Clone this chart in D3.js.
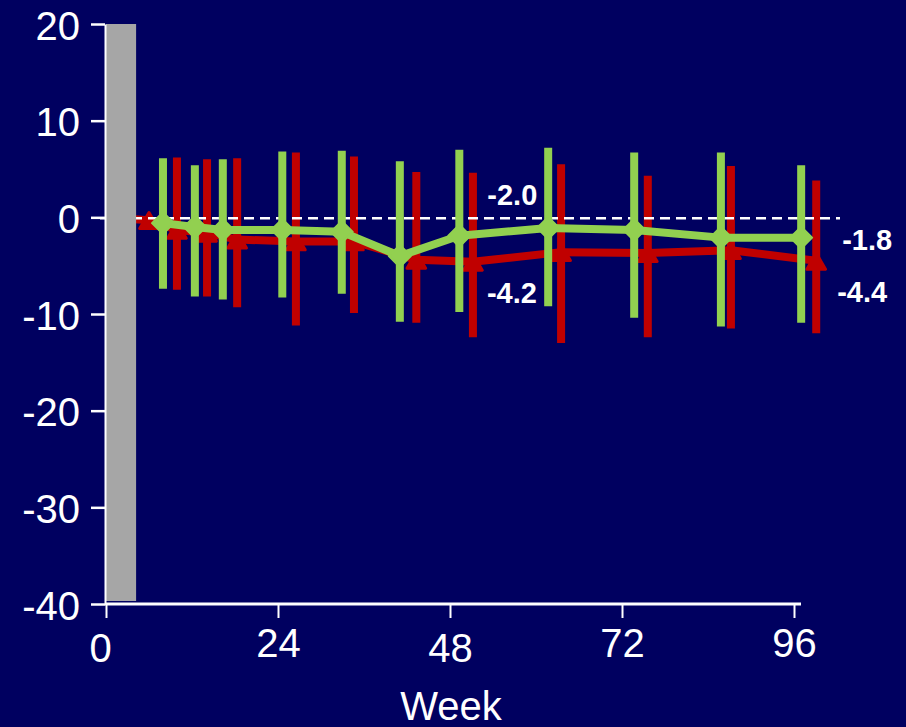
<!DOCTYPE html>
<html>
<head>
<meta charset="utf-8">
<script src="https://cdn.jsdelivr.net/npm/d3@7"></script>
<style>
  html, body { margin: 0; padding: 0; background: #000060; }
  svg { display: block; }
  text { font-family: "Liberation Sans", Arial, sans-serif; fill: #fff; }
</style>
</head>
<body>
<svg id="chart"></svg>
<script>
// x positions (weeks) as plotted, means and error bar bounds
var greenWeeks = [7.95, 12.4, 16.3, 24.6, 32.9, 41.0, 49.3, 61.7, 73.7, 85.8, 97.0];
var greenMean  = [-0.6, -1.0, -1.3, -1.3, -1.5, -4.0, -1.9, -1.1, -1.3, -2.1, -2.1];
var greenLow   = [-7.4, -8.2, -8.5, -8.3, -7.9, -10.8, -9.8, -9.2, -10.4, -11.3, -10.9];
var greenHigh  = [6.1, 5.4, 6.0, 6.8, 6.9, 5.8, 7.0, 7.2, 6.7, 6.7, 5.4];

var redWeeks = [0, 6.0, 9.9, 14.1, 18.3, 26.5, 34.6, 43.3, 51.2, 63.5, 75.6, 87.2, 99.1];
var redMean  = [0, -0.3, -1.3, -1.6, -2.3, -2.5, -2.5, -4.4, -4.6, -3.6, -3.7, -3.4, -4.5];
var redLow   = [null, null, -7.5, -8.2, -9.3, -11.2, -9.9, -10.9, -12.4, -13.0, -12.4, -11.5, -12.0];
var redHigh  = [null, null, 6.2, 6.0, 6.1, 6.7, 6.3, 4.7, 4.6, 5.5, 4.3, 5.3, 3.8];

var xTicks = [0, 24, 48, 72, 96];
var yTicks = [20, 10, 0, -10, -20, -30, -40];
var leadInWeeks = 4.2;   // grey shaded band at the start
var valueLabels = ['-2.0', '-4.2', '-1.8', '-4.4'];

var width = 906, height = 727;
var greenColor = '#92d050', redColor = '#c00000';

var svg = d3.select('#chart')
    .attr('width', width)
    .attr('height', height);

svg.append('rect')
    .attr('width', width)
    .attr('height', height)
    .attr('fill', '#000060');

var x = d3.scaleLinear().domain([0, 96]).range([106, 794]);
var y = d3.scaleLinear().domain([-40, 20]).range([604, 24]);

var line = d3.line()
    .x(function(d) { return x(d[0]); })
    .y(function(d) { return y(d[1]); });

var redPts = redWeeks.map(function(w, i) { return [w, redMean[i], redLow[i], redHigh[i]]; });
var greenPts = greenWeeks.map(function(w, i) { return [w, greenMean[i], greenLow[i], greenHigh[i]]; });

// red series (drawn under green)
var red = svg.append('g');
red.append('path')
    .attr('d', line(redPts))
    .attr('fill', 'none')
    .attr('stroke', redColor)
    .attr('stroke-width', 8)
    .attr('stroke-linejoin', 'round');

red.selectAll('line.bar')
    .data(redPts.filter(function(d) { return d[2] !== null; }))
    .enter()
    .append('line')
    .attr('x1', function(d) { return x(d[0]); })
    .attr('x2', function(d) { return x(d[0]); })
    .attr('y1', function(d) { return y(d[3]); })
    .attr('y2', function(d) { return y(d[2]); })
    .attr('stroke', redColor)
    .attr('stroke-width', 8);

red.selectAll('path.marker')
    .data(redPts.slice(1))
    .enter()
    .append('path')
    .attr('d', d3.symbol().type(d3.symbolTriangle).size(150))
    .attr('transform', function(d) { return 'translate(' + x(d[0]) + ',' + (y(d[1]) + 3) + ')'; })
    .attr('fill', redColor)
    .attr('stroke', redColor)
    .attr('stroke-width', 3)
    .attr('stroke-linejoin', 'round');

// dashed zero line
svg.append('line')
    .attr('x1', 100)
    .attr('x2', 840)
    .attr('y1', y(0) + 1)
    .attr('y2', y(0) + 1)
    .attr('stroke', '#fff')
    .attr('stroke-width', 2.5)
    .attr('stroke-dasharray', '10,6');

// grey lead-in band
svg.append('rect')
    .attr('x', x(0))
    .attr('y', y(20))
    .attr('width', x(leadInWeeks) - x(0))
    .attr('height', y(-40) - y(20) - 3)
    .attr('fill', '#a6a6a6');

// green series
var green = svg.append('g');
green.append('path')
    .attr('d', line(greenPts))
    .attr('fill', 'none')
    .attr('stroke', greenColor)
    .attr('stroke-width', 8)
    .attr('stroke-linejoin', 'round');

green.selectAll('line.bar')
    .data(greenPts)
    .enter()
    .append('line')
    .attr('x1', function(d) { return x(d[0]); })
    .attr('x2', function(d) { return x(d[0]); })
    .attr('y1', function(d) { return y(d[3]); })
    .attr('y2', function(d) { return y(d[2]); })
    .attr('stroke', greenColor)
    .attr('stroke-width', 8);

green.selectAll('path.marker')
    .data(greenPts)
    .enter()
    .append('path')
    .attr('d', 'M0,-11L11,0L0,11L-11,0Z')
    .attr('transform', function(d) { return 'translate(' + x(d[0]) + ',' + y(d[1]) + ')'; })
    .attr('fill', greenColor)
    .attr('stroke', greenColor)
    .attr('stroke-width', 2)
    .attr('stroke-linejoin', 'round');

// value labels next to week 48 and week 96 points
var g48 = greenPts[6], r48 = redPts[8], g96 = greenPts[10], r96 = redPts[12];
var labelPos = [
    [x(g48[0]) + 28, y(g48[1]) - 31],
    [x(r48[0]) + 14, y(r48[1]) + 41],
    [x(g96[0]) + 41, y(g96[1]) + 12],
    [x(r96[0]) + 21, y(r96[1]) + 41]
];
svg.selectAll('text.value')
    .data(valueLabels)
    .enter()
    .append('text')
    .attr('class', 'value')
    .attr('x', function(d, i) { return labelPos[i][0]; })
    .attr('y', function(d, i) { return labelPos[i][1]; })
    .attr('font-size', 29)
    .attr('font-weight', 'bold')
    .text(function(d) { return d; });

// axes
var yAxis = svg.append('g')
    .attr('transform', 'translate(105,0)')
    .call(d3.axisLeft(y).tickValues(yTicks).tickFormat(String)
        .tickSize(14).tickSizeOuter(0).tickPadding(11));
yAxis.select('.domain').attr('stroke', '#fff').attr('stroke-width', 2);
yAxis.selectAll('.tick line').attr('stroke', '#fff').attr('stroke-width', 2.5);
yAxis.selectAll('.tick text')
    .attr('font-size', 40)
    .attr('font-family', '"Liberation Sans", Arial, sans-serif')
    .attr('fill', '#fff')
    .attr('dy', '0.38em');

var xAxis = svg.append('g')
    .attr('transform', 'translate(0,604)')
    .call(d3.axisBottom(x).tickValues(xTicks).tickFormat(String)
        .tickSize(14).tickSizeOuter(0).tickPadding(11));
xAxis.select('.domain').remove();
xAxis.append('line')
    .attr('x1', 105)
    .attr('x2', 801)
    .attr('stroke', '#fff')
    .attr('stroke-width', 3);
xAxis.selectAll('.tick line').attr('stroke', '#fff').attr('stroke-width', 2);
xAxis.selectAll('.tick text')
    .attr('font-size', 40)
    .attr('font-family', '"Liberation Sans", Arial, sans-serif')
    .attr('fill', '#fff')
    .attr('dx', function(d) { return d === 0 ? -6 : 0; })
    .attr('transform', function(d) { return (d === 0 || d === 48) ? 'translate(0,5)' : null; });

svg.append('text')
    .attr('x', 451)
    .attr('y', 720)
    .attr('text-anchor', 'middle')
    .attr('font-size', 40)
    .text('Week');
</script>
</body>
</html>
